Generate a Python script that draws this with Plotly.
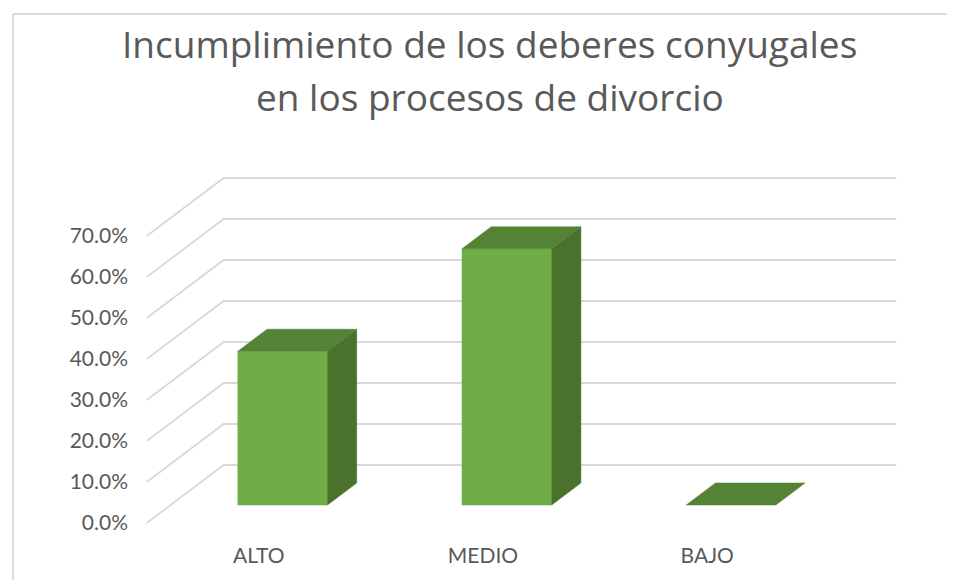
import plotly.graph_objects as go

# ---- data ----
categories = ["ALTO", "MEDIO", "BAJO"]
values = [0.375, 0.625, 0.0]
y_ticks = [0.0, 0.1, 0.2, 0.3, 0.4, 0.5, 0.6, 0.7]
y_tick_labels = ["0.0%", "10.0%", "20.0%", "30.0%", "40.0%", "50.0%", "60.0%", "70.0%"]
title_lines = ["Incumplimiento de los deberes conyugales", "en los procesos de divorcio"]

# ---- oblique projection style ----
DX, DY = 0.343, 0.1415   # full floor depth expressed in axis units
F0, F1 = 0.31, 0.69      # bar depth (fraction of floor depth)
BAR_W = 0.40
N = len(categories)

def proj(x, y, f):
    return x + f * DX, y + f * DY

FONT = "Lato, 'Open Sans', sans-serif"
TFONT = "'Open Sans', Lato, sans-serif"
GREY = "#595959"
GRID = "#D9D9D9"

fig = go.Figure()

# gridlines: front-left diagonal + back wall horizontal
gx, gy = [], []
for v in y_ticks:
    p0 = proj(0, v, 0)
    p1 = proj(0, v, 1)
    p2 = proj(N, v, 1)
    gx += [p0[0], p1[0], p2[0], None]
    gy += [p0[1], p1[1], p2[1], None]
fig.add_trace(go.Scatter(x=gx, y=gy, mode="lines", line=dict(color=GRID, width=1.8),
                         hoverinfo="skip", showlegend=False))

front_x, front_y, side_x, side_y, top_x, top_y = [], [], [], [], [], []
for i, v in enumerate(values):
    c = i + 0.5
    xl, xr = c - BAR_W / 2, c + BAR_W / 2
    if v > 0:
        for (x, y, f) in [(xl, 0, F0), (xr, 0, F0), (xr, v, F0), (xl, v, F0), (xl, 0, F0)]:
            px, py = proj(x, y, f); front_x.append(px); front_y.append(py)
        front_x.append(None); front_y.append(None)
        for (x, y, f) in [(xr, 0, F0), (xr, 0, F1), (xr, v, F1), (xr, v, F0), (xr, 0, F0)]:
            px, py = proj(x, y, f); side_x.append(px); side_y.append(py)
        side_x.append(None); side_y.append(None)
    for (x, y, f) in [(xl, v, F0), (xr, v, F0), (xr, v, F1), (xl, v, F1), (xl, v, F0)]:
        px, py = proj(x, y, f); top_x.append(px); top_y.append(py)
    top_x.append(None); top_y.append(None)

for xs, ys, col in [(front_x, front_y, "#70AD47"), (side_x, side_y, "#4A722C"), (top_x, top_y, "#558335")]:
    fig.add_trace(go.Scatter(x=xs, y=ys, mode="lines", fill="toself", fillcolor=col,
                             line=dict(color=col, width=0.5), hoverinfo="skip", showlegend=False))

# title lines
fig.add_annotation(text=title_lines[0], xref="paper", yref="paper", x=0.460, y=1.350,
                   showarrow=False, font=dict(family=TFONT, size=37, color=GREY),
                   xanchor="center", yanchor="middle")
fig.add_annotation(text=title_lines[1], xref="paper", yref="paper", x=0.460, y=1.205,
                   showarrow=False, font=dict(family=TFONT, size=37, color=GREY),
                   xanchor="center", yanchor="middle")

# chart border (left + top)
fig.add_shape(type="line", xref="paper", yref="paper", x0=-0.167, x1=1.2, y0=1.433, y1=1.433,
              line=dict(color=GRID, width=2))
fig.add_shape(type="line", xref="paper", yref="paper", x0=-0.167, x1=-0.167, y0=1.433, y1=-0.2,
              line=dict(color=GRID, width=2))

fig.update_layout(
    width=947, height=572, autosize=False,
    margin=dict(l=132, r=55, t=162, b=50),
    paper_bgcolor="white", plot_bgcolor="white",
    showlegend=False,
    xaxis=dict(range=[-0.03, 3.36], tickmode="array",
               tickvals=[i + 0.5 for i in range(N)], ticktext=categories,
               showgrid=False, zeroline=False, showline=False, ticks="",
               tickfont=dict(family=FONT, size=21, color=GREY), ticklabelstandoff=11,
               fixedrange=True),
    yaxis=dict(range=[-0.01707, 0.861], tickmode="array", tickvals=y_ticks,
               ticktext=y_tick_labels, showgrid=False, zeroline=False, showline=False,
               ticks="", tickfont=dict(family=FONT, size=21, color=GREY),
               ticklabelstandoff=11, fixedrange=True),
)

fig.write_html("out.html")
